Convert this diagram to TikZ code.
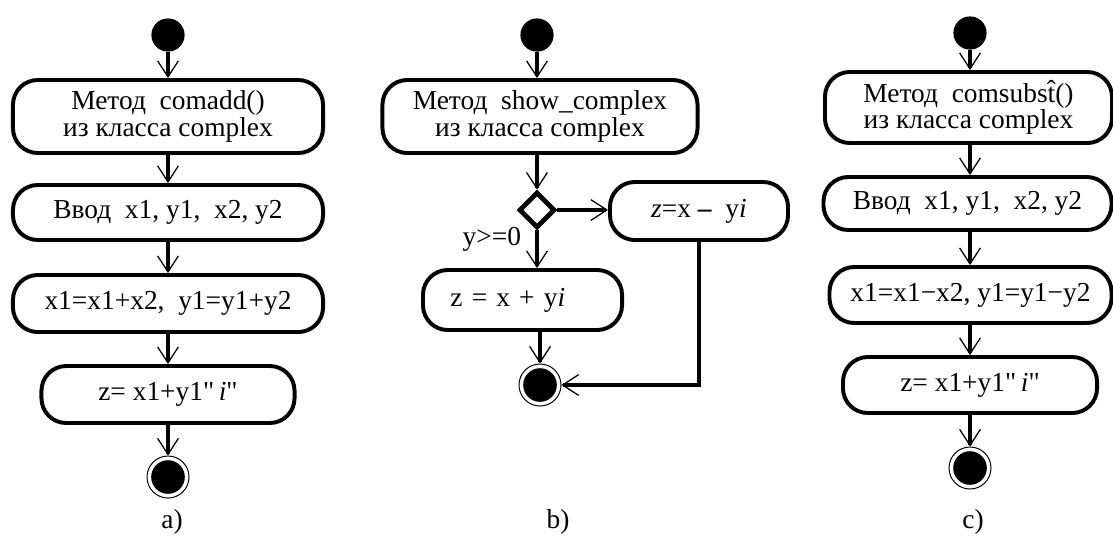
\documentclass[tikz,border=0pt]{standalone}
\usepackage{fontspec}
\setmainfont{Liberation Serif}
\usetikzlibrary{arrows.meta,shapes.geometric}

\begin{document}
\begin{tikzpicture}[x=0.025cm,y=-0.025cm,
 act/.style={draw,line width=2.8pt,rounded corners=0.62cm,align=center,inner sep=0pt,font=\fontsize{19.5}{17}\selectfont},
 startdot/.style={circle,fill=black,minimum size=0.83cm,inner sep=0pt},
 enddot/.style={circle,draw,line width=0.7pt,minimum size=1.05cm,inner sep=0pt,
  path picture={\fill (path picture bounding box.center) circle (0.42cm);}},
 choice/.style={diamond,draw,line width=3.4pt,minimum width=0.9cm,minimum height=0.9cm,inner sep=0pt},
 flow/.style={line width=2.8pt,-{Straight Barb[length=0.4cm,width=0.52cm,line width=0.9pt]}},
 lbl/.style={font=\fontsize{19.5}{21}\selectfont}]
\useasboundingbox (0,0) rectangle (1113,535);

% a) comadd
\node[startdot] (sa) at (168,35) {};
\node[act,minimum width=7.75cm,minimum height=1.825cm] (a1) at (168,116.5) {Метод\ \ comadd()\\из класса complex};
\node[act,minimum width=7.75cm,minimum height=1.375cm] (a2) at (168,212.5) {Ввод\ \ x1, y1,\ \ x2, y2};
\node[act,minimum width=7.75cm,minimum height=1.425cm] (a3) at (168,303.5) {x1=x1+x2,\ \ y1=y1+y2};
\node[act,minimum width=6.325cm,minimum height=1.425cm] (a4) at (168,394.5) {z= x1+y1\textquotedbl\,\textit{i}\textquotedbl};
\node[enddot] (ea) at (168,477) {};
\node[lbl] (la) at (172,522) {a)};
\draw[flow] (sa) -- (a1);
\draw[flow] (a1) -- (a2);
\draw[flow] (a2) -- (a3);
\draw[flow] (a3) -- (a4);
\draw[flow] (a4.south) -- (ea);

% b) show_complex
\node[startdot] (sb) at (537,35) {};
\node[act,minimum width=7.875cm,minimum height=1.825cm] (b1) at (540,116.5) {Метод\ \ show\_complex\\из класса complex};
\node[choice] (dm) at (537,210) {};
\node[act,minimum width=4.45cm,minimum height=1.45cm] (b2) at (699,211) {\textit{z}=x \textbf{--}\ \ y\textit{i}};
\node[act,minimum width=4.975cm,minimum height=1.5cm,text width=3.6cm,align=left] (b3) at (522.5,300) {z = x + y\textit{i}};
\node[enddot] (eb) at (540,385) {};
\node[lbl,anchor=east] (gd) at (526,239) {y>=0};
\node[lbl] (lb) at (558,522) {b)};
\draw[flow] (sb) -- (sb |- b1.north);
\draw[flow] (sb |- b1.south) -- (dm);
\draw[flow] (dm.east) -- (dm.east -| b2.west);
\draw[flow] (dm.south) -- (dm.south |- b3.north);
\draw[flow] (eb |- b3.south) -- (eb);
\draw[flow] (b2.south) |- (eb);

% c) comsubst
\node[startdot] (sc) at (970,33) {};
\node[act,minimum width=7.175cm,minimum height=1.775cm] (c1) at (968.5,107.5) {Метод\ \ comsubs\^{t}()\\из класса complex};
\node[act,minimum width=7.2cm,minimum height=1.325cm] (c2) at (967.5,203.5) {Ввод\ \ x1, y1,\ \ x2, y2};
\node[act,minimum width=7.05cm,minimum height=1.4cm] (c3) at (970.5,295) {x1=x1−x2, y1=y1−y2};
\node[act,minimum width=6.35cm,minimum height=1.4cm] (c4) at (970,385) {z= x1+y1\textquotedbl\,\textit{i}\textquotedbl};
\node[enddot] (ec) at (970,468) {};
\node[lbl] (lc) at (973,522) {c)};
\draw[flow] (sc) -- (sc |- c1.north);
\draw[flow] (sc |- c1.south) -- (sc |- c2.north);
\draw[flow] (sc |- c2.south) -- (sc |- c3.north);
\draw[flow] (sc |- c3.south) -- (sc |- c4.north);
\draw[flow] (sc |- c4.south) -- (ec);
\end{tikzpicture}
\end{document}
